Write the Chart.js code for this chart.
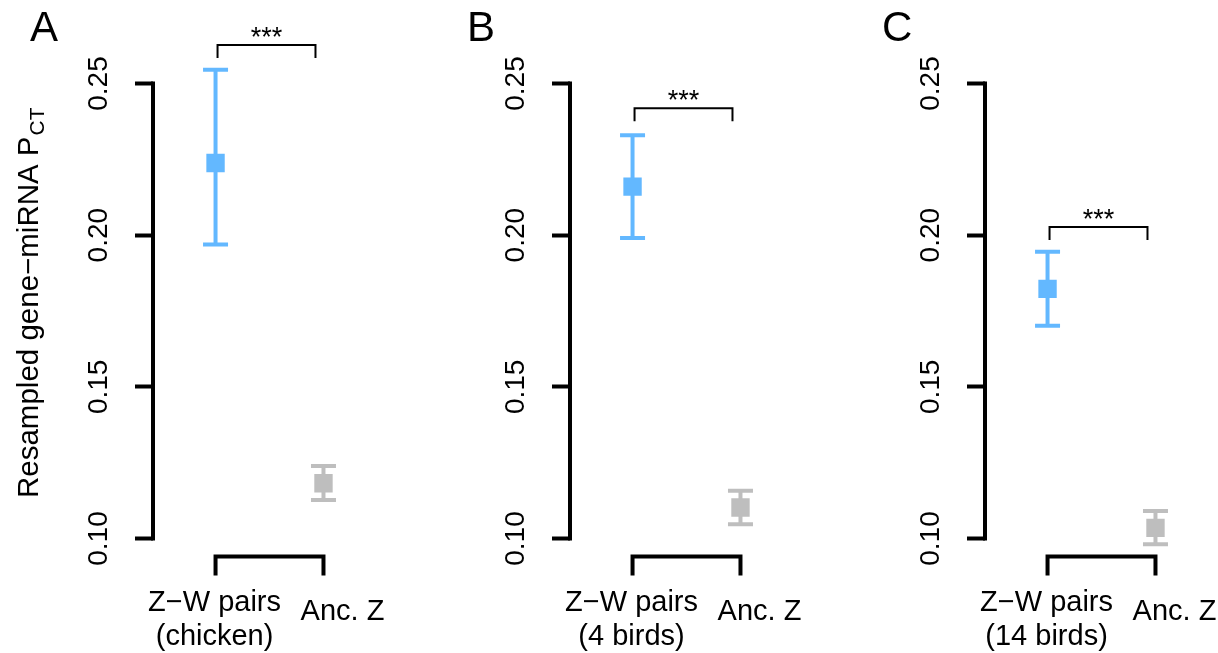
<!DOCTYPE html>
<html>
<head>
<meta charset="utf-8">
<script src="https://cdn.jsdelivr.net/npm/chart.js@4.4.0/dist/chart.umd.min.js"></script>
<style>
  html, body { margin: 0; padding: 0; background: #fff; }
  #wrap { position: relative; width: 1218px; height: 653px; overflow: hidden; }
  canvas { position: absolute; top: 0; }
</style>
</head>
<body>
<div id="wrap">
  <canvas id="panelA" width="400" height="653" style="left:0px"></canvas>
  <canvas id="panelB" width="400" height="653" style="left:417px"></canvas>
  <canvas id="panelC" width="400" height="653" style="left:832px"></canvas>
</div>
<script>
"use strict";
///////////////////////////////
//Data
const panelLetters = ["A", "B", "C"];
const categories = ["Z−W pairs", "Anc. Z"];
const groupNotes = ["(chicken)", "(4 birds)", "(14 birds)"];
const yTicks = [0.1, 0.15, 0.2, 0.25];
const yTitle = "Resampled gene−miRNA P";
const yTitleSub = "CT";

// Z-W pairs: mean and interval per panel
const zwMean = [0.2238, 0.216, 0.1823];
const zwLow = [0.1969, 0.1991, 0.1701];
const zwHigh = [0.2545, 0.2329, 0.1945];
// Ancestral Z
const ancMean = [0.1182, 0.1102, 0.1035];
const ancLow = [0.1127, 0.1047, 0.0981];
const ancHigh = [0.1239, 0.1157, 0.1091];
// significance bracket
const sigText = "***";
const sigLevel = [0.2627, 0.2418, 0.2027];

///////////////////////////////
//Styles
const FONT = "'Liberation Sans', Arial, Helvetica, sans-serif";
const blue = "#63B8FF";
const grey = "#BEBEBE";
const canvasIds = ["panelA", "panelB", "panelC"];

//////////////////////////////
//Functions

// datasets for one panel: square, caps, stem for each group
const makeDatasets = function (p) {
  const groups = [
    { x: 1, mean: zwMean[p], lo: zwLow[p], hi: zwHigh[p], color: blue },
    { x: 2, mean: ancMean[p], lo: ancLow[p], hi: ancHigh[p], color: grey },
  ];
  let sets = [];
  groups.forEach(function (g) {
    sets.push({
      data: [{ x: g.x, y: g.mean }],
      pointStyle: "rect",
      pointRadius: 13,
      pointBackgroundColor: g.color,
      pointBorderWidth: 0,
      order: 0,
    });
    sets.push({
      data: [{ x: g.x, y: g.lo }, { x: g.x, y: g.hi }],
      pointStyle: "line",
      pointRadius: 12.5,
      pointBorderColor: g.color,
      pointBorderWidth: 4,
      order: 1,
    });
    sets.push({
      data: [{ x: g.x, y: g.lo }, { x: g.x, y: g.hi }],
      showLine: true,
      borderColor: g.color,
      borderWidth: 4,
      pointRadius: 0,
      order: 2,
    });
  });
  return sets;
};

// axis line, brackets, labels, panel letter
const decor = {
  id: "decor",
  afterDraw(chart, args, opts) {
    const p = opts.panel;
    const ctx = chart.ctx;
    const xs = chart.scales.x;
    const ys = chart.scales.y;
    const x1 = xs.getPixelForValue(1);
    const x2 = xs.getPixelForValue(2);
    const axisX = chart.chartArea.left;
    const yLo = ys.getPixelForValue(yTicks[0]);
    const yHi = ys.getPixelForValue(yTicks[yTicks.length - 1]);
    ctx.save();
    ctx.strokeStyle = "#000";
    ctx.fillStyle = "#000";

    // y axis line (only over tick range)
    ctx.lineWidth = 4;
    ctx.beginPath();
    ctx.moveTo(axisX, yLo + 2);
    ctx.lineTo(axisX, yHi - 2);
    ctx.stroke();

    // bottom axis bracket
    const by = yLo + 18;
    ctx.beginPath();
    ctx.moveTo(x1, by + 19);
    ctx.lineTo(x1, by);
    ctx.lineTo(x2, by);
    ctx.lineTo(x2, by + 19);
    ctx.stroke();

    // category labels
    ctx.font = "29px " + FONT;
    ctx.textAlign = "center";
    ctx.textBaseline = "alphabetic";
    ctx.fillText(categories[0], x1 - 1, yLo + 73);
    ctx.fillText(groupNotes[p], x1 - 1, yLo + 107);
    ctx.fillText(categories[1], x2 + 19, yLo + 82);

    // significance bracket
    const sy = ys.getPixelForValue(sigLevel[p]);
    const sl = x1 + 2;
    const sr = x2 - 8;
    ctx.lineWidth = 2;
    ctx.beginPath();
    ctx.moveTo(sl, sy + 13);
    ctx.lineTo(sl, sy);
    ctx.lineTo(sr, sy);
    ctx.lineTo(sr, sy + 13);
    ctx.stroke();
    ctx.font = "27px " + FONT;
    ctx.fillText(sigText, (sl + sr) / 2, sy + 1);

    // panel letter
    ctx.font = "42px " + FONT;
    ctx.textAlign = "left";
    ctx.fillText(panelLetters[p], p === 0 ? axisX - 123 : axisX - 103, 41);

    // y title on first panel
    if (p === 0) {
      ctx.translate(38, 498);
      ctx.rotate(-Math.PI / 2);
      ctx.font = "29.5px " + FONT;
      ctx.fillText(yTitle, 0, 0);
      const w = ctx.measureText(yTitle).width;
      ctx.font = "21px " + FONT;
      ctx.fillText(yTitleSub, w + 1, 6);
    }
    ctx.restore();
  },
};

// create chart
const makeChart = function (p) {
  return new Chart(document.getElementById(canvasIds[p]), {
    type: "scatter",
    data: { datasets: makeDatasets(p) },
    options: {
      responsive: false,
      animation: false,
      events: [],
      layout: { padding: { top: 22.83, bottom: 84.17, left: 0, right: 0 } },
      plugins: {
        legend: { display: false },
        tooltip: { enabled: false },
        decor: { panel: p },
      },
      scales: {
        x: { type: "linear", display: false, min: 0.4206, max: 2.556 },
        y: {
          type: "linear",
          min: 0.09,
          max: 0.27,
          afterBuildTicks: function (s) {
            s.ticks = yTicks.map((v) => ({ value: v }));
          },
          afterFit: function (s) {
            s.width = 153;
            s.paddingTop = 0;
            s.paddingBottom = 0;
          },
          border: { display: false },
          grid: {
            drawOnChartArea: false,
            drawTicks: true,
            tickLength: 18,
            tickWidth: 4,
            tickColor: "#000",
          },
          ticks: {
            minRotation: 90,
            maxRotation: 90,
            crossAlign: "center",
            padding: 8,
            color: "#000",
            font: { family: FONT, size: 28 },
            callback: function (value) {
              return value.toFixed(2);
            },
          },
        },
      },
    },
    plugins: [decor],
  });
};

//////////////////////////
//Invoke
panelLetters.forEach(function (l, i) {
  makeChart(i);
});
</script>
</body>
</html>
